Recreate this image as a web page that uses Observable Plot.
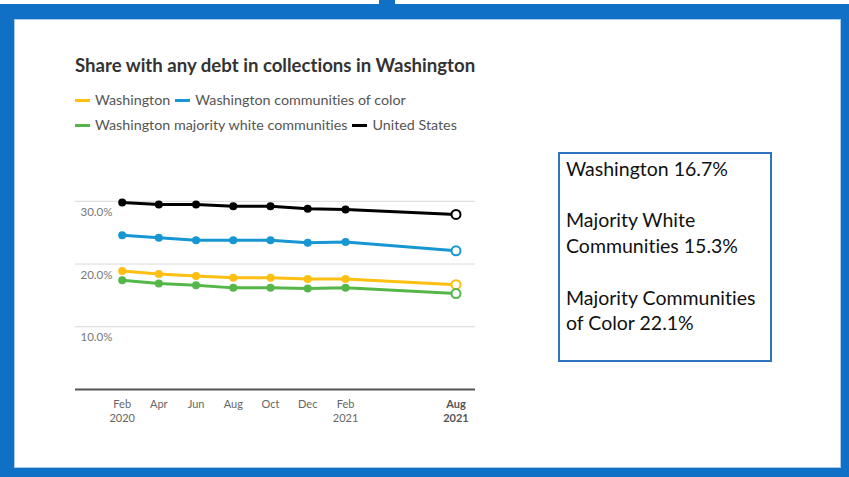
<!DOCTYPE html>
<html>
<head>
<meta charset="utf-8">
<script src="https://cdn.jsdelivr.net/npm/d3@7"></script>
<script src="https://cdn.jsdelivr.net/npm/@observablehq/plot@0.6"></script>
<style>
  html, body { margin: 0; padding: 0; background: #fff; }
  #page { position: relative; width: 849px; height: 477px; overflow: hidden; background: #fff; font-family: Lato, "Open Sans", sans-serif; font-variant-ligatures: none; }
  .band { position: absolute; background: #1070c6; }
  #inner { position: absolute; left: 14px; top: 19px; width: 827px; height: 449px; box-sizing: border-box; border: 1px solid #a9c9ea; background: #fff; }
  #title { position: absolute; left: 75px; top: 54px; font-size: 18.6px; font-weight: 700; color: #333; line-height: 22px; white-space: nowrap; }
  .legrow { position: absolute; left: 75px; font-size: 14.3px; color: #555; line-height: 16px; white-space: nowrap; display: flex; align-items: center; }
  .sw { display: inline-block; width: 15px; height: 3px; margin-right: 5px; }
  .item { display: inline-flex; align-items: center; margin-right: 5px; }
  #chart { position: absolute; left: 60px; top: 185px; }
  #box { position: absolute; left: 558px; top: 152px; width: 214px; height: 210px; box-sizing: border-box; border: 2px solid #2f74be; padding: 2px 0 0 6px; font-family: Lato, sans-serif; font-size: 19.5px; line-height: 25.7px; color: #111; font-variant-ligatures: none; }
</style>
</head>
<body>
<div id="page">
  <div class="band" style="left:0;top:4px;width:849px;height:15px"></div>
  <div class="band" style="left:379px;top:0;width:16px;height:5px"></div>
  <div class="band" style="left:0;top:4px;width:14px;height:473px"></div>
  <div class="band" style="left:841px;top:4px;width:8px;height:473px"></div>
  <div class="band" style="left:0;top:468px;width:849px;height:9px"></div>
  <div id="inner"></div>
  <div id="title">Share with any debt in collections in Washington</div>
  <div id="leg1" class="legrow" style="top:92px"></div>
  <div id="leg2" class="legrow" style="top:117px"></div>
  <div id="chart"></div>
  <div id="box"></div>
</div>
<script>
// ---- data ----
const dates = ["2020-02-01","2020-04-01","2020-06-01","2020-08-01","2020-10-01","2020-12-01","2021-02-01","2021-08-01"];
const monthLabels = ["Feb","Apr","Jun","Aug","Oct","Dec","Feb","Aug"];
const yearLabels = ["2020","","","","","","2021","2021"];
const seriesNames = ["Washington","Washington communities of color","Washington majority white communities","United States"];
const seriesColors = ["#fdbf11","#1696d2","#55b748","#000000"];
const washington = [18.9, 18.4, 18.1, 17.8, 17.8, 17.6, 17.6, 16.7];
const communitiesOfColor = [24.6, 24.2, 23.8, 23.8, 23.8, 23.4, 23.5, 22.1];
const majorityWhite = [17.4, 16.9, 16.6, 16.2, 16.2, 16.1, 16.2, 15.3];
const unitedStates = [29.8, 29.5, 29.5, 29.2, 29.2, 28.8, 28.7, 27.9];
const yTicks = [10, 20, 30];
const boxLines = ["Washington 16.7%", "", "Majority White", "Communities 15.3%", "", "Majority Communities", "of Color 22.1%"];

// ---- build table ----
const valueSets = [washington, communitiesOfColor, majorityWhite, unitedStates];
const parse = d3.utcParse("%Y-%m-%d");
const dateObjs = dates.map(parse);
const rows = [];
seriesNames.forEach((s, i) => {
  valueSets[i].forEach((v, j) => rows.push({series: s, date: dateObjs[j], value: v, last: j === dates.length - 1}));
});
const monthOf = new Map(dateObjs.map((d, i) => [+d, monthLabels[i]]));
const yearOf = new Map(dateObjs.map((d, i) => [+d, yearLabels[i]]));
const yearTicks = dateObjs.filter((d, i) => yearLabels[i] !== "");
const lastDate = dateObjs[dateObjs.length - 1];

// ---- legend ----
function addItem(el, i) {
  const it = document.createElement("span");
  it.className = "item";
  it.innerHTML = `<span class="sw" style="background:${seriesColors[i]}"></span>${seriesNames[i]}`;
  el.appendChild(it);
}
addItem(document.getElementById("leg1"), 0);
addItem(document.getElementById("leg1"), 1);
addItem(document.getElementById("leg2"), 2);
addItem(document.getElementById("leg2"), 3);

// ---- text box ----
document.getElementById("box").innerHTML = boxLines.map(l => `<div>${l || "&nbsp;"}</div>`).join("");

// ---- chart ----
const W = 420, H = 250;
const axisBase = {tickSize: 0, fontSize: 11, lineAnchor: "top", label: null};
const chart = Plot.plot({
  width: W, height: H,
  marginLeft: 15, marginRight: 5, marginTop: 15.8, marginBottom: 46,
  style: {fontFamily: "Lato, sans-serif", background: "transparent", overflow: "visible"},
  x: {type: "utc", domain: [dateObjs[0], lastDate], range: [61.7, 395.5]},
  y: {domain: [0, 30]},
  color: {domain: seriesNames, range: seriesColors},
  marks: [
    Plot.gridY(yTicks, {stroke: "#d9d9d9", strokeOpacity: 1, strokeWidth: 1}),
    Plot.axisY(yTicks, {tickSize: 0, tickPadding: 0, textAnchor: "start", dx: 5, dy: 11, fontSize: 11.5, fill: "#777", tickFormat: d => d.toFixed(1) + "%", label: null}),
    Plot.ruleY([0], {stroke: "#555", strokeWidth: 2}),
    Plot.axisX(dateObjs.slice(0, -1), {...axisBase, tickPadding: 11, fill: "#666", tickFormat: d => monthOf.get(+d)}),
    Plot.axisX(yearTicks.slice(0, -1), {...axisBase, tickPadding: 24.5, fill: "#666", tickFormat: d => yearOf.get(+d)}),
    Plot.axisX([lastDate], {...axisBase, tickPadding: 11, fill: "#555", fontWeight: "bold", tickFormat: d => monthOf.get(+d)}),
    Plot.axisX([lastDate], {...axisBase, tickPadding: 24.5, fill: "#555", fontWeight: "bold", tickFormat: d => yearOf.get(+d)}),
    Plot.line(rows, {x: "date", y: "value", z: "series", stroke: "series", strokeWidth: 3}),
    Plot.dot(rows.filter(d => !d.last), {x: "date", y: "value", fill: "series", r: 4}),
    Plot.dot(rows.filter(d => d.last), {x: "date", y: "value", stroke: "series", fill: "white", r: 4.5, strokeWidth: 2})
  ]
});
document.getElementById("chart").appendChild(chart);
</script>
</body>
</html>
